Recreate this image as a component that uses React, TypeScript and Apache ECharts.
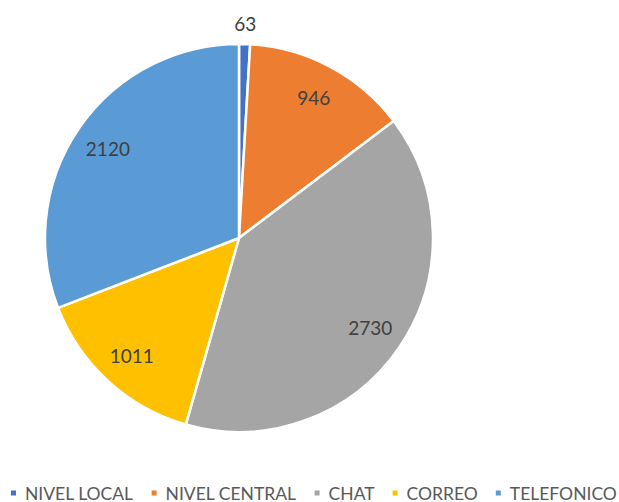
import React, { useEffect, useRef } from "react";
import * as echarts from "echarts";

const categories = ["NIVEL LOCAL", "NIVEL CENTRAL", "CHAT", "CORREO", "TELEFONICO"];
const values = [63, 946, 2730, 1011, 2120];
const colors = ["#4472C4", "#ED7D31", "#A5A5A5", "#FFC000", "#5B9BD5"];
const outsideLabelItems = ["NIVEL LOCAL"];

const FONT = "Lato, 'Liberation Sans', sans-serif";

export default function App() {
  const ref = useRef<HTMLDivElement>(null);
  useEffect(() => {
    if (!ref.current) return;
    const chart = echarts.init(ref.current, undefined, { renderer: "svg" });
    const center = [239, 238];
    const base = categories.map((c, i) => ({ name: c, value: values[i] }));
    chart.setOption({
      animation: false,
      backgroundColor: "#ffffff",
      legend: {
        left: 9,
        top: 484,
        width: 800,
        padding: 0,
        itemWidth: 7,
        itemHeight: 7,
        itemGap: 16,
        icon: "rect",
        data: categories.map((c, i) => ({ name: c, itemStyle: { color: colors[i] } })),
        textStyle: { fontFamily: FONT, fontSize: 17.5, color: "#595959", padding: [0, 0, 0, 3] },
      },
      series: [
        {
          type: "pie",
          center,
          radius: [0, 194],
          startAngle: 90,
          clockwise: true,
          silent: true,
          label: { show: false },
          labelLine: { show: false },
          itemStyle: { borderColor: "#ffffff", borderWidth: 2.5 },
          data: base.map((d, i) => ({ ...d, itemStyle: { color: colors[i] } })),
        },
        {
          type: "pie",
          center,
          radius: [118, 194],
          startAngle: 90,
          clockwise: true,
          silent: true,
          legendHoverLink: false,
          itemStyle: { color: "rgba(0,0,0,0)" },
          labelLine: { show: false },
          label: {
            show: true,
            position: "inside",
            formatter: (p: any) => (outsideLabelItems.includes(p.name) ? "" : String(p.value)),
            fontFamily: FONT,
            fontSize: 19,
            color: "#404040",
          },
          data: base,
        },
        {
          type: "pie",
          center,
          radius: [196, 228],
          startAngle: 90,
          clockwise: true,
          silent: true,
          legendHoverLink: false,
          itemStyle: { color: "rgba(0,0,0,0)" },
          labelLine: { show: false },
          label: {
            show: true,
            position: "inside",
            formatter: (p: any) => (outsideLabelItems.includes(p.name) ? String(p.value) : ""),
            fontFamily: FONT,
            fontSize: 19,
            color: "#404040",
          },
          data: base,
        },
      ],
    });
    return () => chart.dispose();
  }, []);
  return (
    <div
      ref={ref}
      style={{ position: "fixed", left: 0, top: 0, width: 619, height: 502 }}
    />
  );
}
